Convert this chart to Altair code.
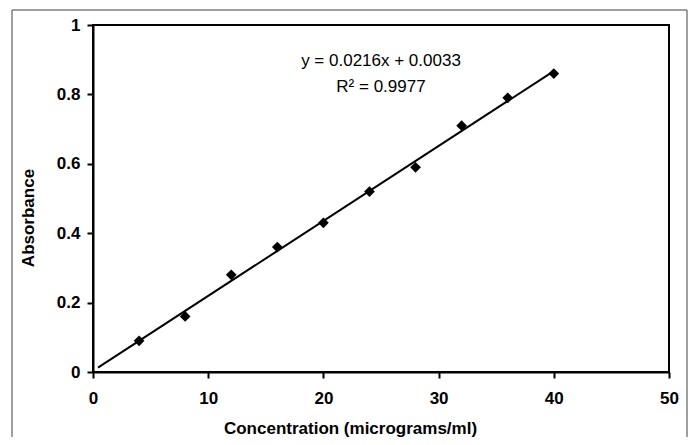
import altair as alt
import pandas as pd

# Data
conc = [4, 8, 12, 16, 20, 24, 28, 32, 36, 40]
absorb = [0.09, 0.16, 0.28, 0.36, 0.43, 0.52, 0.59, 0.71, 0.79, 0.86]

slope = 0.0216
intercept = 0.0033
trend_x = [0.43, 40]
trend_y = [intercept + slope * v for v in trend_x]

ann_text = ["y = 0.0216x + 0.0033", "R\u00b2 = 0.9977"]
ann_x = [25.0, 25.0]
ann_y = [0.882, 0.807]

FONT = "Liberation Sans"

pts = pd.DataFrame({"x": conc, "y": absorb})
trend = pd.DataFrame({"x": trend_x, "y": trend_y})
ann = pd.DataFrame({"x": ann_x, "y": ann_y, "t": ann_text})

xscale = alt.Scale(domain=[0, 50], nice=False, zero=False)
yscale = alt.Scale(domain=[0, 1], nice=False, zero=False)

xaxis = alt.Axis(
    values=[0, 10, 20, 30, 40, 50], title="Concentration (micrograms/ml)",
    grid=False, domainColor="black", domainWidth=2, tickColor="black", tickWidth=2,
    tickSize=6, labelFont=FONT, labelFontSize=17, labelFontWeight="bold",
    labelColor="black", labelPadding=12, titleFont=FONT, titleFontSize=17,
    titleFontWeight="bold", titleColor="black", titleX=257, titleY=61,
    titleBaseline="alphabetic", labelFlush=False,
)
yaxis = alt.Axis(
    values=[0, 0.2, 0.4, 0.6, 0.8, 1.0], format=".1~f", title="Absorbance",
    grid=False, domainColor="black", domainWidth=2, tickColor="black", tickWidth=2,
    tickSize=6, labelFont=FONT, labelFontSize=17, labelFontWeight="bold",
    labelColor="black", labelPadding=7, titleFont=FONT, titleFontSize=17,
    titleFontWeight="bold", titleColor="black", titleX=-60, titleY=192.5,
    titleBaseline="alphabetic", titleAngle=-90, labelFlush=False,
)

points = alt.Chart(pts).mark_point(
    shape="diamond", filled=True, color="black", size=115, opacity=1
).encode(
    x=alt.X("x:Q", scale=xscale, axis=xaxis),
    y=alt.Y("y:Q", scale=yscale, axis=yaxis),
)

line = alt.Chart(trend).mark_line(color="black", strokeWidth=2).encode(
    x=alt.X("x:Q", scale=xscale), y=alt.Y("y:Q", scale=yscale)
)

text = alt.Chart(ann).mark_text(
    font=FONT, fontSize=17, color="black", align="center", baseline="alphabetic"
).encode(
    x=alt.X("x:Q", scale=xscale), y=alt.Y("y:Q", scale=yscale), text="t:N"
)

frame_df = pd.DataFrame({"a": [0]})
frame_top = alt.Chart(frame_df).mark_rule(color="#404040", strokeWidth=1).encode(
    x=alt.value(-81), x2=alt.value(594), y=alt.value(-15)
)
frame_left = alt.Chart(frame_df).mark_rule(color="#404040", strokeWidth=1).encode(
    x=alt.value(-81), y=alt.value(-15), y2=alt.value(420)
)
frame_right = alt.Chart(frame_df).mark_rule(color="#404040", strokeWidth=1).encode(
    x=alt.value(594), y=alt.value(-15), y2=alt.value(420)
)

chart = alt.layer(frame_top, frame_left, frame_right, line, points, text).properties(
    width=576, height=347,
    autosize=alt.AutoSizeParams(type="none"),
    padding={"left": 85, "top": 17, "right": 19, "bottom": 65},
    background="white",
).configure_view(stroke="black", strokeWidth=2)

chart.save("out.html", embed_options={"renderer": "svg", "actions": False})
